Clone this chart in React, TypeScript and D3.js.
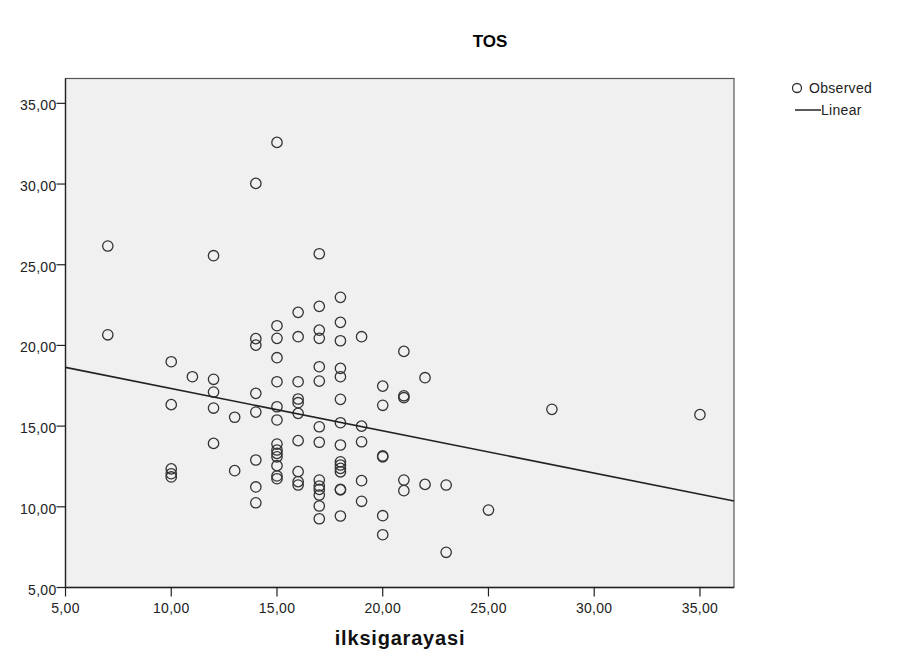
import React from "react";
import * as d3 from "d3";

// TOS vs ilksigarayasi
const xValues = [
  7, 7,
  10, 10, 10, 10, 10,
  11,
  12, 12, 12, 12, 12,
  13, 13,
  14, 14, 14, 14, 14, 14, 14, 14,
  15, 15, 15, 15, 15, 15, 15, 15, 15, 15, 15, 15, 15, 15,
  16, 16, 16, 16, 16, 16, 16, 16, 16, 16,
  17, 17, 17, 17, 17, 17, 17, 17, 17, 17, 17, 17, 17, 17,
  18, 18, 18, 18, 18, 18, 18, 18, 18, 18, 18, 18, 18, 18, 18,
  19, 19, 19, 19, 19,
  20, 20, 20, 20, 20, 20,
  21, 21, 21, 21, 21,
  22, 22,
  23, 23,
  25,
  28,
  35,
];
const yValues = [
  26.16, 20.66,
  18.99, 16.33, 12.35, 12.05, 11.85,
  18.06,
  25.56, 17.9, 17.11, 16.12, 13.93,
  15.55, 12.24,
  30.04, 20.42, 20.02, 17.03, 15.87, 12.9, 11.23, 10.25,
  32.58, 21.22, 20.44, 19.24, 17.75, 16.2, 15.38, 13.89, 13.52, 13.31, 13.1, 12.55, 11.91, 11.74,
  22.05, 20.54, 17.75, 16.68, 16.45, 15.79, 14.1, 12.18, 11.56, 11.35,
  25.68, 22.42, 20.95, 20.44, 18.68, 17.79, 14.96, 14.0, 11.66, 11.29, 11.08, 10.73, 10.05, 9.26,
  22.98, 21.43, 20.29, 18.58, 18.06, 16.66, 15.21, 13.83, 12.79, 12.59, 12.38, 12.17, 11.08, 11.05, 9.43,
  20.54, 15.0, 14.03, 11.62, 10.34,
  17.48, 16.29, 13.15, 13.1, 9.45, 8.27,
  19.63, 16.88, 16.76, 11.66, 11.0,
  18.0, 11.39,
  11.35, 7.18,
  9.8,
  16.04,
  15.71,
];

// linear fit as drawn in the reference
const fitIntercept = 19.95;
const fitSlope = -0.262;

const xTicks = [5, 10, 15, 20, 25, 30, 35];
const yTicks = [5, 10, 15, 20, 25, 30, 35];

const fmt = (v: number) => v.toFixed(2).replace(".", ",");

const W = 904;
const H = 659;
const plot = { left: 65.5, right: 734, top: 78.5, bottom: 587.5 };

export default function App() {
  const x = d3.scaleLinear().domain([5, 36.61]).range([plot.left, plot.right]);
  const y = d3.scaleLinear().domain([5, 36.54]).range([plot.bottom, plot.top]);

  const points = xValues.map((xv, i) => ({ x: xv, y: yValues[i] }));
  const [x0, x1] = x.domain();
  const fitLine = d3
    .line<number>()
    .x((d) => x(d))
    .y((d) => y(fitIntercept + fitSlope * d))([x0, x1]);

  const font = "'Liberation Sans', Arial, sans-serif";
  const tickFont = { fontSize: 14, letterSpacing: 0.3, fill: "#222" };

  return (
    <svg
      width={W}
      height={H}
      style={{ position: "absolute", left: 0, top: 0, background: "#fff" }}
      fontFamily={font}
    >
      <text x={490} y={47} textAnchor="middle" fontSize={17} fontWeight="bold" fill="#000">
        TOS
      </text>

      {/* plot frame */}
      <rect
        x={plot.left}
        y={plot.top}
        width={plot.right - plot.left}
        height={plot.bottom - plot.top}
        fill="#f0f0f0"
        stroke="#555"
        strokeWidth={1.2}
      />

      {/* y axis */}
      <line x1={plot.left} x2={plot.left} y1={plot.top} y2={plot.bottom} stroke="#222" strokeWidth={1.3} />
      {yTicks.map((t) => (
        <g key={"y" + t}>
          <line x1={plot.left - 9} x2={plot.left} y1={y(t)} y2={y(t)} stroke="#222" strokeWidth={1.2} />
          <text x={plot.left - 9} y={y(t) + 7} textAnchor="end" {...tickFont}>
            {fmt(t)}
          </text>
        </g>
      ))}

      {/* x axis */}
      <line x1={plot.left} x2={plot.right} y1={plot.bottom} y2={plot.bottom} stroke="#222" strokeWidth={1.3} />
      {xTicks.map((t) => (
        <g key={"x" + t}>
          <line x1={x(t)} x2={x(t)} y1={plot.bottom} y2={plot.bottom + 9} stroke="#222" strokeWidth={1.2} />
          <text x={x(t)} y={plot.bottom + 25} textAnchor="middle" {...tickFont}>
            {fmt(t)}
          </text>
        </g>
      ))}
      <text x={400} y={645} textAnchor="middle" fontSize={20} fontWeight="bold" letterSpacing={0.8} fill="#111">
        ilksigarayasi
      </text>

      {/* observed */}
      {points.map((p, i) => (
        <circle key={i} cx={x(p.x)} cy={y(p.y)} r={5.2} fill="none" stroke="#333" strokeWidth={1.3} />
      ))}

      {/* linear fit */}
      <path d={fitLine ?? ""} fill="none" stroke="#222" strokeWidth={1.6} />

      {/* legend */}
      <circle cx={797} cy={88} r={4.5} fill="none" stroke="#333" strokeWidth={1.3} />
      <text x={809} y={93} {...tickFont}>Observed</text>
      <line x1={795} x2={821} y1={110} y2={110} stroke="#333" strokeWidth={1.6} />
      <text x={821} y={115} {...tickFont}>Linear</text>
    </svg>
  );
}
